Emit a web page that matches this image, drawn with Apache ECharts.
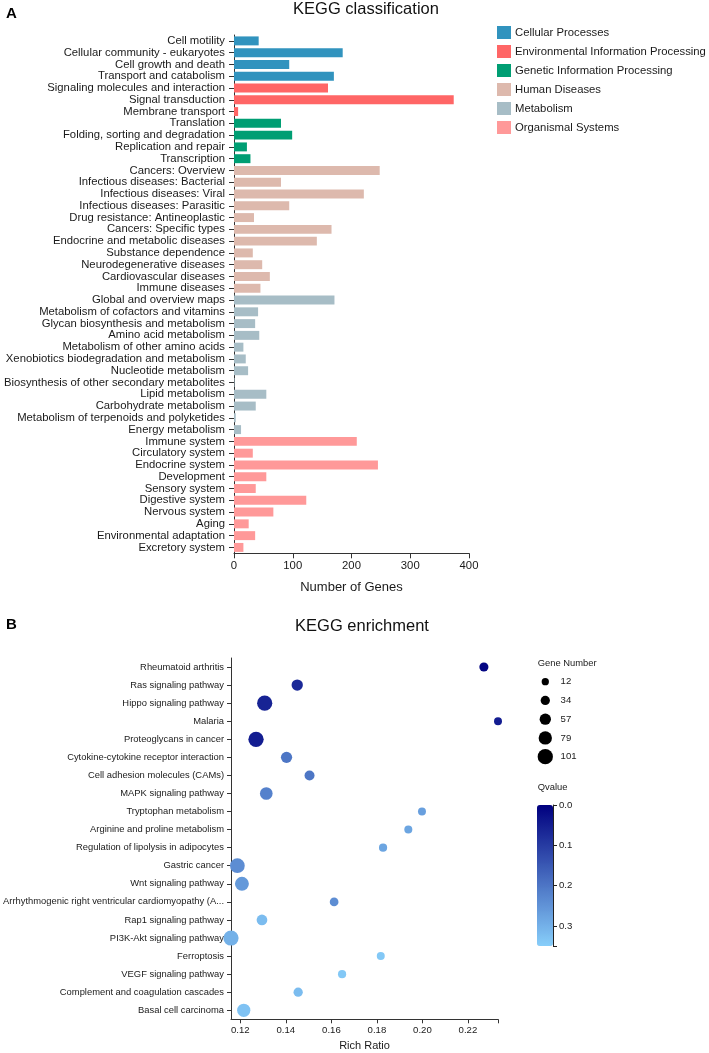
<!DOCTYPE html>
<html>
<head>
<meta charset="utf-8">
<script src="https://cdn.jsdelivr.net/npm/echarts@6/dist/echarts.min.js"></script>
<style>
html,body{margin:0;padding:0;background:#fff;}
#chart{width:709px;height:1053px;}
</style>
</head>
<body>
<div id="chart"></div>
<script>
// ---------- Panel A data ----------
const groupNames = ['Cellular Processes', 'Environmental Information Processing', 'Genetic Information Processing', 'Human Diseases', 'Metabolism', 'Organismal Systems'];
const groupColors = ['#3193be', '#ff6666', '#009e73', '#ddb9ad', '#a7bdc6', '#ff9999'];
const classCategories = ['Cell motility', 'Cellular community - eukaryotes', 'Cell growth and death', 'Transport and catabolism',
  'Signaling molecules and interaction', 'Signal transduction', 'Membrane transport',
  'Translation', 'Folding, sorting and degradation', 'Replication and repair', 'Transcription',
  'Cancers: Overview', 'Infectious diseases: Bacterial', 'Infectious diseases: Viral', 'Infectious diseases: Parasitic', 'Drug resistance: Antineoplastic', 'Cancers: Specific types', 'Endocrine and metabolic diseases', 'Substance dependence', 'Neurodegenerative diseases', 'Cardiovascular diseases', 'Immune diseases',
  'Global and overview maps', 'Metabolism of cofactors and vitamins', 'Glycan biosynthesis and metabolism', 'Amino acid metabolism', 'Metabolism of other amino acids', 'Xenobiotics biodegradation and metabolism', 'Nucleotide metabolism', 'Biosynthesis of other secondary metabolites', 'Lipid metabolism', 'Carbohydrate metabolism', 'Metabolism of terpenoids and polyketides', 'Energy metabolism',
  'Immune system', 'Circulatory system', 'Endocrine system', 'Development', 'Sensory system', 'Digestive system', 'Nervous system', 'Aging', 'Environmental adaptation', 'Excretory system'];
const classValues = [42, 185, 94, 170,
  160, 374, 7,
  80, 99, 22, 28,
  248, 80, 221, 94, 34, 166, 141, 32, 48, 61, 45,
  171, 41, 36, 43, 16, 20, 24, 1, 55, 37, 3, 12,
  209, 32, 245, 55, 37, 123, 67, 25, 36, 16];
const classGroups = [0, 0, 0, 0,
  1, 1, 1,
  2, 2, 2, 2,
  3, 3, 3, 3, 3, 3, 3, 3, 3, 3, 3,
  4, 4, 4, 4, 4, 4, 4, 4, 4, 4, 4, 4,
  5, 5, 5, 5, 5, 5, 5, 5, 5, 5];
const classTicks = [0, 100, 200, 300, 400];

// ---------- Panel B data ----------
const enrichPathways = ['Rheumatoid arthritis', 'Ras signaling pathway', 'Hippo signaling pathway', 'Malaria', 'Proteoglycans in cancer',
  'Cytokine-cytokine receptor interaction', 'Cell adhesion molecules (CAMs)', 'MAPK signaling pathway', 'Tryptophan metabolism',
  'Arginine and proline metabolism', 'Regulation of lipolysis in adipocytes', 'Gastric cancer', 'Wnt signaling pathway',
  'Arrhythmogenic right ventricular cardiomyopathy (A...', 'Rap1 signaling pathway', 'PI3K-Akt signaling pathway', 'Ferroptosis',
  'VEGF signaling pathway', 'Complement and coagulation cascades', 'Basal cell carcinoma'];
const enrichRichRatio = [0.2270, 0.1450, 0.1307, 0.2332, 0.1269, 0.1403, 0.1504, 0.1314, 0.1998, 0.1938,
  0.1827, 0.1187, 0.1207, 0.1612, 0.1295, 0.1159, 0.1817, 0.1647, 0.1454, 0.1215];
const enrichGeneNumber = [32, 57, 100, 20, 101, 56, 42, 72, 20, 20, 22, 95, 86, 28, 50, 100, 20, 22, 34, 78];
const enrichQvalue = [0.01, 0.07, 0.06, 0.05, 0.05, 0.20, 0.20, 0.22, 0.27, 0.28, 0.28, 0.24, 0.26, 0.24, 0.32, 0.30, 0.34, 0.34, 0.32, 0.33];
const richTicks = [0.12, 0.14, 0.16, 0.18, 0.20, 0.22];
const sizeLegendValues = [12, 34, 57, 79, 101];
const qTicks = [0, 0.1, 0.2, 0.3];

const FONT = '"Liberation Sans", Arial, sans-serif';
const TXT = '#1a1a1a';
const AX = '#333';

function bubbleSize(n) { return 6.2 + 0.09 * n; }

const chart = echarts.init(document.getElementById('chart'), null, {renderer: 'canvas'});

// bar series: one per group, stacked so they share the slot
const barSeries = groupNames.map((g, gi) => ({
  name: g,
  type: 'bar',
  stack: 'all',
  xAxisIndex: 0, yAxisIndex: 0,
  barCategoryGap: '24%',
  itemStyle: {color: groupColors[gi]},
  data: classValues.map((v, i) => classGroups[i] === gi ? v : '-')
}));

const xMin = Math.min.apply(null, enrichRichRatio);
const xMax = Math.max.apply(null, enrichRichRatio);

const option = {
  animation: false,
  textStyle: {fontFamily: FONT},
  graphic: [
    {type: 'text', left: 6, top: 6, style: {text: 'A', font: 'bold 15px ' + FONT, fill: '#000'}},
    {type: 'text', x: 366, y: 9, style: {text: 'KEGG classification', font: '16.5px ' + FONT, fill: '#111', textAlign: 'center', textVerticalAlign: 'middle'}},
    {type: 'text', left: 6, top: 617, style: {text: 'B', font: 'bold 15px ' + FONT, fill: '#000'}},
    {type: 'text', x: 362, y: 626, style: {text: 'KEGG enrichment', font: '16.5px ' + FONT, fill: '#111', textAlign: 'center', textVerticalAlign: 'middle'}},
    {type: 'text', x: 537.7, y: 663, style: {text: 'Gene Number', font: '9.4px ' + FONT, fill: TXT, textVerticalAlign: 'middle'}},
    {type: 'text', x: 537.7, y: 787, style: {text: 'Qvalue', font: '9.4px ' + FONT, fill: TXT, textVerticalAlign: 'middle'}}
  ],
  legend: {
    data: groupNames,
    orient: 'vertical',
    left: 497, top: 26,
    padding: 0,
    itemWidth: 14, itemHeight: 13, itemGap: 6,
    icon: 'rect',
    selectedMode: false,
    textStyle: {fontSize: 11.3, color: TXT, fontFamily: FONT, padding: [0, 0, 0, -1]}
  },
  grid: [
    {left: 234, top: 35, right: 240, bottom: 499.7},
    {left: 231, top: 658, right: 211, bottom: 33.7},
    {left: 537, top: 672.3, width: 16.6, height: 93.75},
    {left: 537, top: 805, width: 16, height: 141}
  ],
  xAxis: [
    {
      gridIndex: 0, type: 'value', min: 0, max: 400, interval: 100,
      name: 'Number of Genes', nameLocation: 'middle', nameGap: 28,
      nameTextStyle: {fontSize: 13, color: TXT, fontFamily: FONT},
      axisLine: {show: true, lineStyle: {color: AX, width: 1}},
      axisTick: {show: true, length: 5, lineStyle: {color: AX}},
      axisLabel: {fontSize: 11.3, color: TXT, margin: 7},
      splitLine: {show: false}
    },
    {
      gridIndex: 1, type: 'value', min: xMin, max: xMax,
      name: 'Rich Ratio', nameLocation: 'middle', nameGap: 21,
      nameTextStyle: {fontSize: 11, color: TXT, fontFamily: FONT},
      axisLine: {show: true, lineStyle: {color: AX, width: 1}},
      axisTick: {show: true, length: 4, lineStyle: {color: AX}, customValues: richTicks.concat([xMax])},
      axisLabel: {fontSize: 9.6, color: TXT, margin: 6, customValues: richTicks, formatter: v => v.toFixed(2)},
      splitLine: {show: false}
    },
    {gridIndex: 2, type: 'value', min: 0, max: 1, show: false},
    {gridIndex: 3, type: 'value', min: 0, max: 1, show: false}
  ],
  yAxis: [
    {
      gridIndex: 0, type: 'category', data: classCategories, inverse: true,
      axisLine: {show: true, lineStyle: {color: AX, width: 1}},
      axisTick: {show: true, alignWithLabel: true, length: 5, lineStyle: {color: AX}},
      axisLabel: {fontSize: 11.3, color: TXT, margin: 9, interval: 0},
      splitLine: {show: false}
    },
    {
      gridIndex: 1, type: 'category', data: enrichPathways, inverse: true,
      axisLine: {show: true, lineStyle: {color: AX, width: 1}},
      axisTick: {show: true, alignWithLabel: true, length: 4, lineStyle: {color: AX}},
      axisLabel: {fontSize: 9.4, color: TXT, margin: 7, interval: 0},
      splitLine: {show: false}
    },
    {
      gridIndex: 2, type: 'category', data: sizeLegendValues.map(String), inverse: true, position: 'right',
      axisLine: {show: false, onZero: false}, axisTick: {show: false},
      axisLabel: {fontSize: 9.6, color: TXT, margin: 7, interval: 0},
      splitLine: {show: false}
    },
    {
      gridIndex: 3, type: 'value', min: 0, max: 0.35, inverse: true, position: 'right', z: 10,
      axisLine: {show: true, onZero: false, lineStyle: {color: '#222', width: 1}},
      axisTick: {show: true, length: 4, lineStyle: {color: '#222'}, customValues: qTicks.concat([0.35])},
      axisLabel: {fontSize: 9.6, color: TXT, margin: 6, customValues: qTicks, formatter: v => v.toFixed(1)},
      splitLine: {show: false}
    }
  ],
  visualMap: [{
    type: 'continuous',
    seriesIndex: groupNames.length,
    dimension: 3,
    min: 0, max: 0.35,
    inverse: true,
    calculable: false,
    hoverLink: false,
    left: 537, top: 805,
    padding: 0,
    itemWidth: 16, itemHeight: 141,
    text: null,
    z: 1,
    inRange: {color: ['#00007f', '#87cefa']}
  }],
  series: barSeries.concat([
    {
      name: 'enrichment',
      type: 'scatter',
      xAxisIndex: 1, yAxisIndex: 1,
      symbol: 'circle',
      symbolSize: (val) => bubbleSize(val[2]),
      itemStyle: {opacity: 1},
      data: enrichPathways.map((p, i) => [enrichRichRatio[i], p, enrichGeneNumber[i], enrichQvalue[i]])
    },
    {
      name: 'sizeLegend',
      type: 'scatter',
      xAxisIndex: 2, yAxisIndex: 2,
      symbol: 'circle',
      symbolSize: (val) => bubbleSize(val[2]),
      itemStyle: {color: '#000', opacity: 1},
      data: sizeLegendValues.map(v => [0.5, String(v), v])
    },
    {
      name: 'qAxis',
      type: 'scatter',
      xAxisIndex: 3, yAxisIndex: 3,
      data: []
    }
  ])
};
chart.setOption(option);
</script>
</body>
</html>
